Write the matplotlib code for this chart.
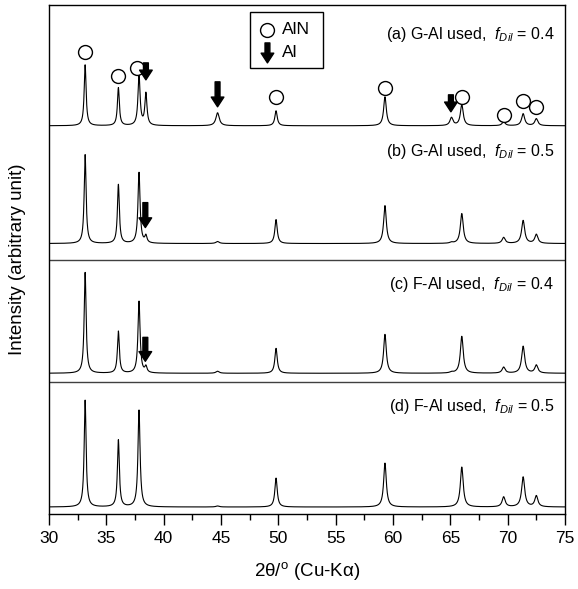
import numpy as np
import matplotlib
matplotlib.use("Agg")
import matplotlib.pyplot as plt
from matplotlib.patches import Rectangle
from matplotlib.ticker import MultipleLocator

plt.rcParams['font.family'] = ['Liberation Sans', 'DejaVu Sans']
plt.rcParams['mathtext.fontset'] = 'custom'
plt.rcParams['mathtext.rm'] = 'Liberation Sans'
plt.rcParams['mathtext.it'] = 'Liberation Sans:italic'

# peak positions (2theta, deg)
peak_pos = [33.15, 36.05, 37.85, 38.45, 44.7, 49.8, 59.3, 65.1, 66.0, 69.65, 71.35, 72.5]
peak_fwhm = [0.2, 0.2, 0.22, 0.22, 0.35, 0.25, 0.28, 0.32, 0.3, 0.32, 0.32, 0.32]

# peak heights for each sample (arbitrary unit)
height_a = [61, 38, 51, 32, 13, 15, 29, 8, 21, 4, 12, 7]
height_b = [89, 59, 71, 7, 2, 24, 38, 1, 30, 6, 23, 9]
height_c = [101, 42, 72, 6, 2, 25, 39, 1, 37, 6, 27, 8]
height_d = [107, 67, 97, 0, 1, 29, 44, 0, 40, 10, 30, 11]

# vertical offsets of the stacked patterns
offsets = [389, 271, 141, 7]
separators = [255, 132]

labels = ["(a) G-Al used,  $f_{Dil}$ = 0.4",
          "(b) G-Al used,  $f_{Dil}$ = 0.5",
          "(c) F-Al used,  $f_{Dil}$ = 0.4",
          "(d) F-Al used,  $f_{Dil}$ = 0.5"]
label_y = [480, 363, 230, 108]

# AlN (circle) and Al (arrow) markers: (2theta, y)
aln_x = [33.1, 36.0, 37.65, 49.8, 59.3, 66.0, 69.7, 71.35, 72.45]
aln_y = [463, 439, 447, 418, 427, 418, 400, 414, 408]
al_x = [38.45, 44.7, 65.05, 38.4, 38.4]
al_top = [452, 433, 420, 312, 177]
al_bot = [435, 408, 403, 287, 153]


def pattern(x, heights):
    y = np.zeros_like(x)
    for p, w, h in zip(peak_pos, peak_fwhm, heights):
        y += h / (1 + ((x - p) / (w / 2)) ** 2)
    return y


def down_arrow(ax, x, ytop, ybot):
    ax.annotate('', xy=(x, ybot), xytext=(x, ytop),
                arrowprops=dict(arrowstyle='simple,head_length=0.5,head_width=0.65,tail_width=0.25',
                                fc='k', ec='k', mutation_scale=14, shrinkA=0, shrinkB=0))


def main():
    fig = plt.figure(figsize=(5.78, 5.89), dpi=100)
    ax = fig.add_axes([0.0848, 0.1273, 0.8927, 0.8642])

    x = np.linspace(30, 75, 4501)
    for h, off in zip([height_a, height_b, height_c, height_d], offsets):
        ax.plot(x, pattern(x, h) + off, color='k', lw=0.8)

    for s in separators:
        ax.axhline(s, color='0.25', lw=1.0)

    for lab, ly in zip(labels, label_y):
        ax.text(74.05, ly, lab, ha='right', va='center', fontsize=11.5)

    ax.plot(aln_x, aln_y, 'o', ms=10, mfc='white', mec='k', mew=1.0, ls='none')
    for xa, yt, yb in zip(al_x, al_top, al_bot):
        down_arrow(ax, xa, yt, yb)

    # legend box
    ax.add_patch(Rectangle((47.55, 447), 6.35, 56, fill=False, ec='k', lw=1.0))
    ax.plot([49.05], [485], 'o', ms=10, mfc='white', mec='k', mew=1.0)
    ax.text(50.35, 485, "AlN", va='center', fontsize=12.5)
    down_arrow(ax, 49.05, 472, 452)
    ax.text(50.35, 462, "Al", va='center', fontsize=12.5)

    ax.set_xlim(30, 75)
    ax.set_ylim(0, 510)
    ax.xaxis.set_major_locator(MultipleLocator(5))
    ax.xaxis.set_minor_locator(MultipleLocator(2.5))
    ax.tick_params(axis='x', which='major', direction='out', length=8, width=1.0, labelsize=12.5, pad=4)
    ax.tick_params(axis='x', which='minor', direction='out', length=4, width=1.0)
    ax.set_yticks([])
    for sp in ax.spines.values():
        sp.set_linewidth(1.0)

    ax.set_xlabel("2θ/$^{\\mathrm{o}}$ (Cu-Kα)", fontsize=13.5, labelpad=10)
    ax.set_ylabel("Intensity (arbitrary unit)", fontsize=13.5)
    ax.yaxis.set_label_coords(-0.045, 0.5)

    fig.savefig("out.png", dpi=100)


if __name__ == "__main__":
    main()
